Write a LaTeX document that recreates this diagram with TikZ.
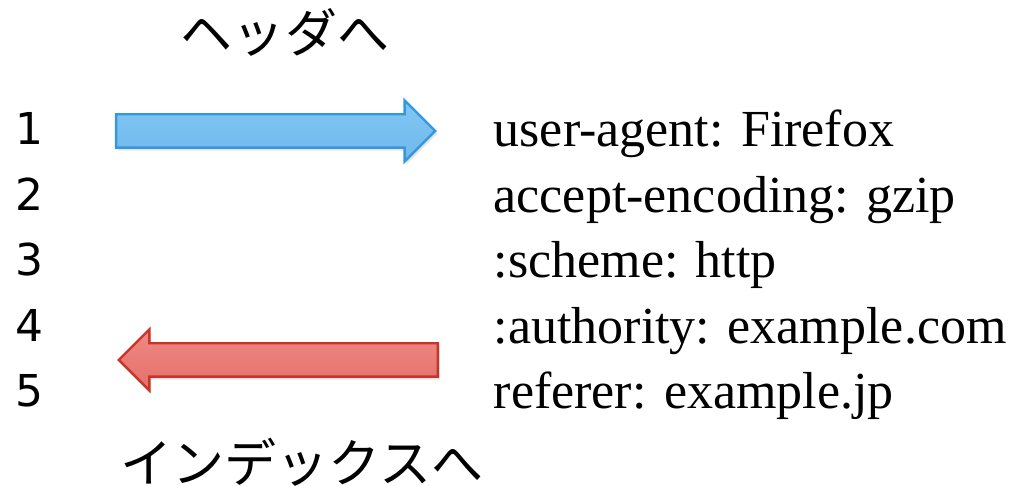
\documentclass[tikz,border=0pt]{standalone}
\usepackage{fontspec}
\setmainfont{Liberation Serif}
\newfontfamily\jpfont{Noto Sans CJK JP}
\newfontfamily\numfont{DejaVu Sans}
\usetikzlibrary{shapes.arrows,shadows}

\definecolor{bluefill}{RGB}{128,199,244}
\definecolor{bluefilldark}{RGB}{112,184,236}
\definecolor{blueline}{RGB}{52,152,219}
\definecolor{redfill}{RGB}{241,136,130}
\definecolor{redfilldark}{RGB}{226,112,106}
\definecolor{redline}{RGB}{200,52,40}

\tikzset{
    bigarrow/.style={
        shape=single arrow,
        anchor=tail,
        inner xsep=0pt,
        inner ysep=0.155cm,
        minimum height=3.19cm,
        single arrow head extend=0.138cm,
        single arrow tip angle=90,
        single arrow head indent=0pt,
        line width=0.7pt,
        drop shadow={opacity=0.2,shadow xshift=0.02cm,shadow yshift=-0.03cm}
    },
    field/.style={
        anchor=base west,
        inner sep=0pt,
        font=\fontsize{14.8}{16}\selectfont
    },
    num/.style={
        anchor=base,
        inner sep=0pt,
        font=\numfont\fontsize{12.5}{14}\selectfont
    },
    jplabel/.style={
        inner sep=0pt,
        font=\jpfont\fontsize{14.8}{16}\selectfont
    }
}

\begin{document}
\begin{tikzpicture}
    \useasboundingbox (0,0) rectangle (10.21,4.86);

    \node[jplabel] (header) at (2.85,4.54){ヘッダへ};
    \node[jplabel] (index) at (3.02,0.24){インデックスへ};

    \node[num] (num1) at (0.29,3.41){1};
    \node[num] (num2) at (0.29,2.755){2};
    \node[num] (num3) at (0.29,2.10){3};
    \node[num] (num4) at (0.29,1.445){4};
    \node[num] (num5) at (0.29,0.79){5};

    \node[field] (field1) at (4.93,3.39){user-agent: Firefox};
    \node[field] (field2) at (4.93,2.735){accept-encoding: gzip};
    \node[field] (field3) at (4.93,2.08){:scheme: http};
    \node[field] (field4) at (4.93,1.425){:authority: example.com};
    \node[field] (field5) at (4.93,0.77){referer: example.jp};

    \node[bigarrow,
        draw=blueline,
        top color=bluefill,
        bottom color=bluefilldark
    ] (toheader) at (1.15,3.55){};
    \node[bigarrow,
        shape border rotate=180,
        draw=redline,
        top color=redfill,
        bottom color=redfilldark
    ] (toindex) at (4.39,1.26){};
\end{tikzpicture}
\end{document}
